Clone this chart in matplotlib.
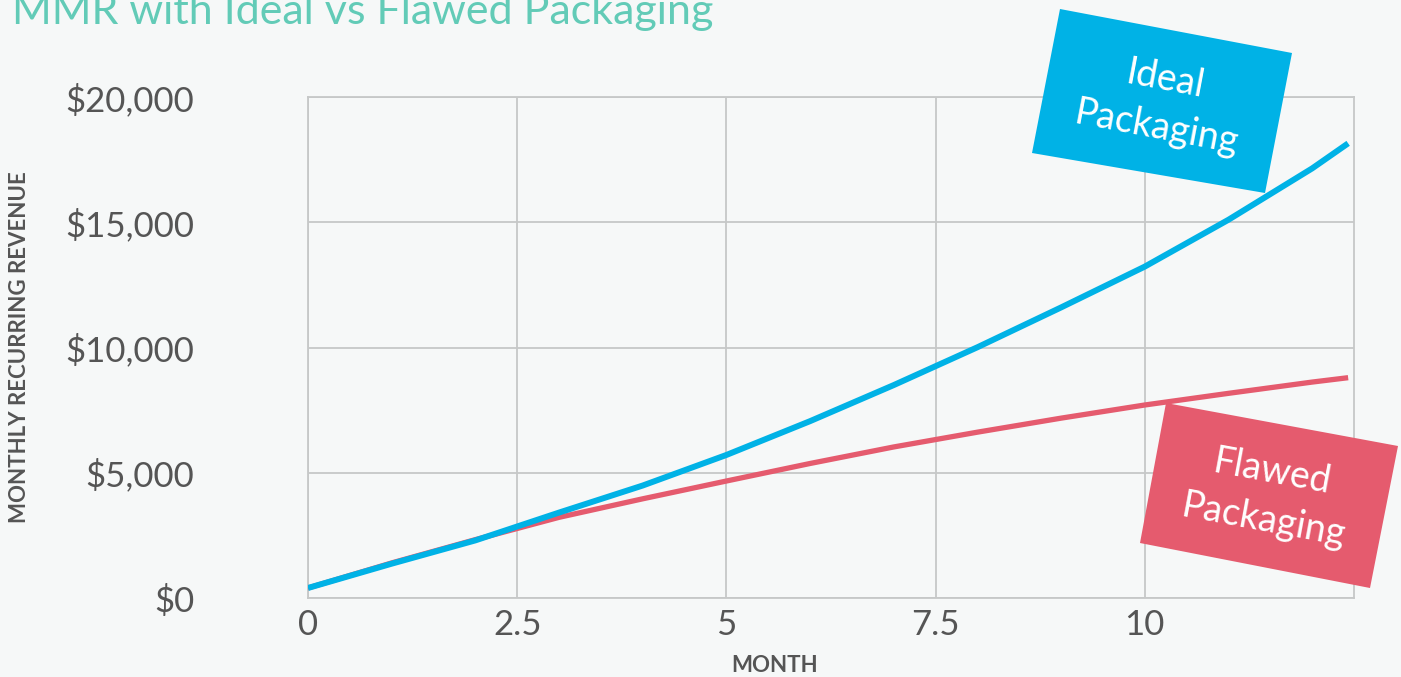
import matplotlib
matplotlib.use("Agg")
import matplotlib.pyplot as plt
from matplotlib.patches import Polygon
import numpy as np

# ---- data ----
months = [0, 1, 2, 3, 4, 5, 6, 7, 8, 9, 10, 11, 12, 12.43]
ideal_mrr = [400, 1370, 2300, 3410, 4490, 5710, 7060, 8500, 10010, 11600, 13230, 15100, 17150, 18150]
flawed_mrr = [400, 1400, 2330, 3220, 3960, 4670, 5370, 6030, 6620, 7180, 7705, 8170, 8620, 8795]
x_ticks = [0, 2.5, 5, 7.5, 10]
x_tick_labels = ["0", "2.5", "5", "7.5", "10"]
y_ticks = [0, 5000, 10000, 15000, 20000]
y_tick_labels = ["$0", "$5,000", "$10,000", "$15,000", "$20,000"]
title_text = "MMR with Ideal vs Flawed Packaging"
x_label = "MONTH"
y_label = "MONTHLY RECURRING REVENUE"
ideal_label = "Ideal\nPackaging"
flawed_label = "Flawed\nPackaging"

# ---- style ----
W, H = 1401, 677
BG = "#f6f8f8"
BLUE = "#00b2e6"
RED = "#e55b6e"
GRID = "#c6c8c8"
TXT = "#555555"
TEAL = "#62cbb7"
FONT = ["Lato", "DejaVu Sans"]

plt.rcParams["font.family"] = FONT

fig = plt.figure(figsize=(W / 100, H / 100), dpi=100, facecolor=BG)
ax = fig.add_axes([308 / W, 1 - 598 / H, (1354 - 308) / W, (598 - 97) / H])
ax.set_facecolor(BG)

ax.plot(months, flawed_mrr, color=RED, lw=3.8, solid_capstyle="butt", zorder=3)
ax.plot(months, ideal_mrr, color=BLUE, lw=4.3, solid_capstyle="butt", zorder=4)

ax.set_xlim(0, 12.5)
ax.set_ylim(0, 20000)
ax.set_xticks(x_ticks)
ax.set_xticklabels(x_tick_labels)
ax.set_yticks(y_ticks)
ax.set_yticklabels(y_tick_labels)
ax.tick_params(axis="both", length=0, colors=TXT, labelsize=25)
ax.tick_params(axis="y", pad=82)
ax.tick_params(axis="x", pad=8)
ax.grid(True, color=GRID, lw=1.3)
for s in ax.spines.values():
    s.set_color(GRID)
    s.set_linewidth(1.3)

ax.set_xlabel(x_label, fontsize=16, fontweight="bold", color=TXT, va="center")
ax.xaxis.set_label_coords((775 - 308) / 1046, (598 - 666) / 501)
ax.set_ylabel(y_label, fontsize=16, fontweight="bold", color=TXT, va="center")
ax.yaxis.set_label_coords((20 - 308) / 1046, 0.5)

fig.text(12 / W, 1 - 24 / H, title_text, color=TEAL, fontsize=31,
         ha="left", va="baseline")


def fig_pt(x, y):
    return (x / W, 1 - y / H)


def rot_box(corners, center, angle, color, text):
    poly = Polygon([fig_pt(*c) for c in corners], closed=True, transform=fig.transFigure,
                   facecolor=color, edgecolor="none", zorder=5)
    fig.add_artist(poly)
    cx, cy = fig_pt(*center)
    fig.text(cx, cy, text, color="white", fontsize=27, rotation=angle,
             rotation_mode="anchor", ha="center", va="center", multialignment="center",
             linespacing=1.45, zorder=6)


rot_box([(1060, 9), (1292, 53), (1265, 193), (1032, 153)], (1161, 104), -10.7, BLUE, ideal_label)
rot_box([(1166, 403), (1398, 446), (1370, 588), (1140, 543)], (1268, 496), -10.5, RED, flawed_label)

fig.savefig("out.png", dpi=100, facecolor=BG)
